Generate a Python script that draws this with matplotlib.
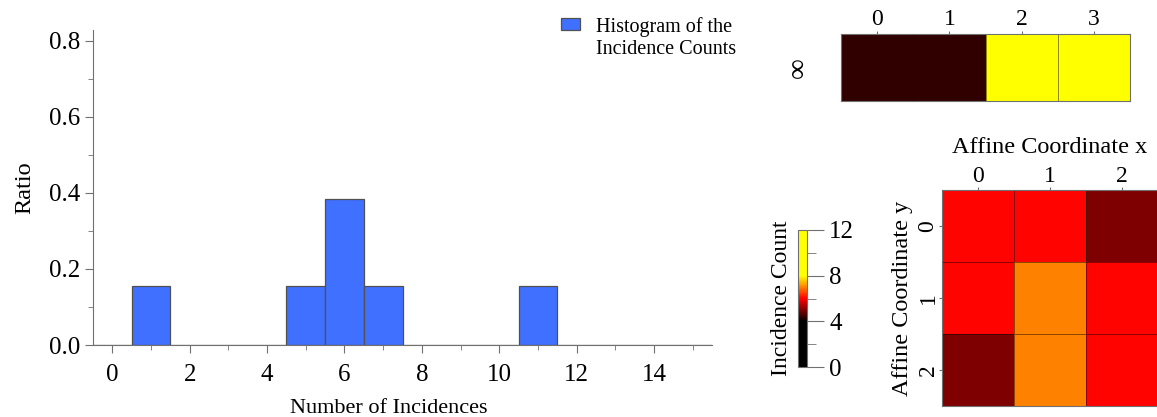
import numpy as np
import matplotlib
matplotlib.use("Agg")
import matplotlib.pyplot as plt
from matplotlib.colors import LinearSegmentedColormap, Normalize
from matplotlib.cm import ScalarMappable
from matplotlib.ticker import MultipleLocator
from matplotlib.legend_handler import HandlerPatch
from matplotlib.patches import Rectangle

plt.rcParams["font.family"] = ["Liberation Serif", "DejaVu Serif"]

# incidence counts of the 13 points of the plane
affine_counts = [[6, 6, 5],
                 [6, 7, 6],
                 [5, 7, 6]]
infinity_counts = [1, 1, 11, 11]
x_labels = ["0", "1", "2"]
y_labels = ["0", "1", "2"]
inf_labels = ["0", "1", "2", "3"]

cor_barra = "#4070ff"
cor_eixo = "#707070"
cor_malha = (0, 0, 0, 0.45)

# black up to 4, red at 6, yellow from 8
cmap = LinearSegmentedColormap.from_list(
    "incid", [(0, "black"), (4 / 12, "black"), (6 / 12, "red"),
              (8 / 12, "yellow"), (1, "yellow")])
norm = Normalize(0, 12)
norm_inf = Normalize(-3.4, 8.6)

todos = np.concatenate([np.ravel(affine_counts), infinity_counts])


def caixa_topo(legend, orig_handle, xdescent, ydescent, width, height, fontsize):
    # small square aligned with the first line of the label
    h = 0.62 * fontsize
    return Rectangle((-xdescent, -ydescent + height - h + 3), width, h)


fig = plt.figure(figsize=(11.57, 4.17), dpi=100)

# ---------- histogram ----------
ax = fig.add_axes([93 / 1157, 72 / 417, 619 / 1157, 315 / 417])
ax.hist(todos, bins=np.arange(-0.5, 16.5), weights=np.full(len(todos), 1 / len(todos)),
        color=cor_barra, edgecolor="#505050", linewidth=0.9,
        label="Histogram of the\nIncidence Counts")
ax.set_xlim(-0.5, 15.5)
ax.set_ylim(0, 0.828)
for s in ["top", "right"]:
    ax.spines[s].set_visible(False)
for s in ["left", "bottom"]:
    ax.spines[s].set_color(cor_eixo)
ax.xaxis.set_major_locator(MultipleLocator(2))
ax.xaxis.set_minor_locator(MultipleLocator(1))
ax.yaxis.set_major_locator(MultipleLocator(0.2))
ax.yaxis.set_minor_locator(MultipleLocator(0.1))
ax.yaxis.set_major_formatter(lambda v, p: f"{v:.1f}")
ax.tick_params(which="major", length=6, color=cor_eixo, labelsize=18, pad=3)
ax.tick_params(which="minor", length=3.5, color=cor_eixo)
ax.tick_params(axis="x", which="major", pad=8)
ax.set_xlabel("Number of Incidences", fontsize=16)
ax.xaxis.set_label_coords(0.477, -0.17)
ax.set_ylabel("Ratio", fontsize=17.5, labelpad=10)
leg = ax.legend(loc="upper left", bbox_to_anchor=(551 / 1157, 1 - 7 / 417),
                bbox_transform=fig.transFigure, frameon=False, fontsize=14.5,
                handlelength=0.95, handleheight=2.2, handletextpad=0.8, borderpad=0,
                handler_map={Rectangle: HandlerPatch(patch_func=caixa_topo)})
for t in leg.get_texts():
    t.set_linespacing(1.25)

# ---------- line at infinity ----------
ax_inf = fig.add_axes([841 / 1157, 316 / 417, 289 / 1157, 67 / 417])
ax_inf.pcolormesh(np.arange(-0.5, 4), [-0.5, 0.5], [infinity_counts], cmap=cmap,
                  norm=norm_inf, edgecolors=cor_malha, linewidth=0.6)
ax_inf.set_xlim(-0.5, 3.5)
ax_inf.set_ylim(0.5, -0.5)
ax_inf.xaxis.tick_top()
ax_inf.set_xticks(range(4), inf_labels)
ax_inf.set_yticks([0], ["\u221e"])
ax_inf.tick_params(axis="x", length=2, color=cor_eixo, labelsize=17, pad=1)
ax_inf.tick_params(axis="y", length=0, labelsize=21, pad=21, labelrotation=90)
for t in ax_inf.get_yticklabels():
    t.set_va("center")
for s in ax_inf.spines.values():
    s.set_color(cor_eixo)
    s.set_linewidth(0.8)

# ---------- affine part ----------
ax_af = fig.add_axes([942 / 1157, 11 / 417, 216 / 1157, 216 / 417])
ax_af.pcolormesh(np.arange(-0.5, 3), np.arange(-0.5, 3), affine_counts, cmap=cmap,
                 norm=norm, edgecolors=cor_malha, linewidth=0.6)
ax_af.set_xlim(-0.5, 2.5)
ax_af.set_ylim(2.5, -0.5)
ax_af.xaxis.tick_top()
ax_af.xaxis.set_label_position("top")
ax_af.set_xticks(range(3), x_labels)
ax_af.set_yticks(range(3), y_labels)
ax_af.tick_params(axis="x", length=2, color=cor_eixo, labelsize=17, pad=0.5)
ax_af.tick_params(axis="y", length=2, color=cor_eixo, labelsize=17, pad=0.5,
                  labelrotation=90)
for t in ax_af.get_yticklabels():
    t.set_va("center")
ax_af.set_xlabel("Affine Coordinate x", fontsize=17.5, labelpad=9)
ax_af.set_ylabel("Affine Coordinate y", fontsize=17.5, labelpad=3)
for s in ax_af.spines.values():
    s.set_color(cor_eixo)
    s.set_linewidth(0.8)

# ---------- colorbar ----------
cax = fig.add_axes([798 / 1157, 50 / 417, 9 / 1157, 137 / 417])
cb = fig.colorbar(ScalarMappable(norm=norm, cmap=cmap), cax=cax)
cb.set_ticks([0, 4, 8, 12])
cb.ax.yaxis.set_minor_locator(MultipleLocator(2))
cb.ax.tick_params(which="major", length=12, color=cor_eixo, labelsize=18, pad=4)
cb.ax.tick_params(which="minor", length=6.5, color=cor_eixo)
cb.outline.set_edgecolor(cor_eixo)
cb.ax.yaxis.set_label_position("left")
cb.set_label("Incidence Count", fontsize=17, labelpad=4)

fig.savefig("out.png", dpi=100)
